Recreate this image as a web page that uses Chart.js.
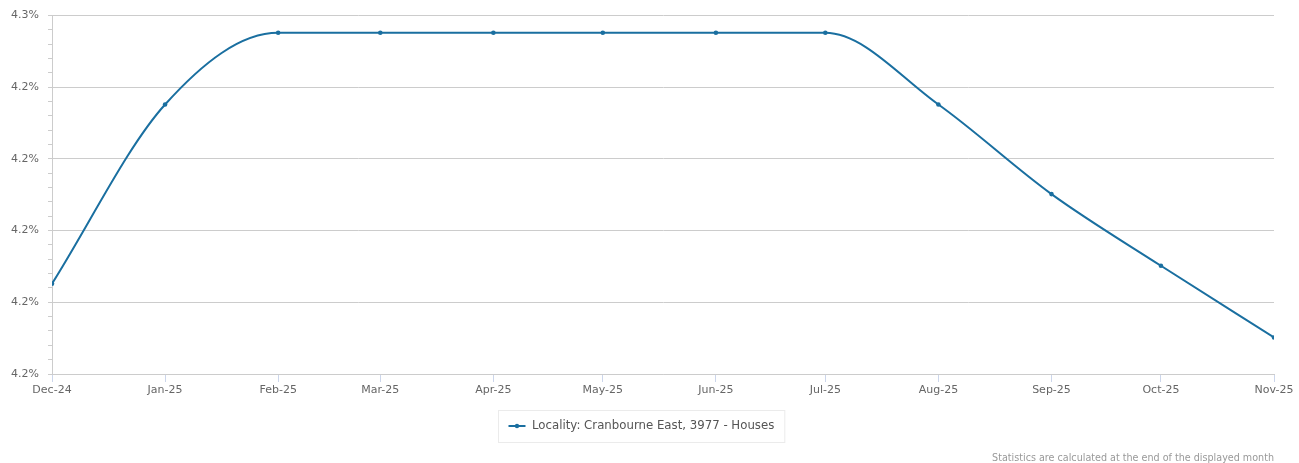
<!DOCTYPE html>
<html>
<head>
<meta charset="utf-8">
<script src="https://cdn.jsdelivr.net/npm/chart.js@4/dist/chart.umd.min.js"></script>
<style>
  html, body { margin: 0; padding: 0; background: #fff; }
  #wrap { width: 1299px; height: 463px; position: relative; }
</style>
</head>
<body>
<div id="wrap"><canvas id="rateChart"></canvas></div>
<script>
// months shown on the x axis (first day of each month)
const months = ["2024-12-01", "2025-01-01", "2025-02-01", "2025-03-01", "2025-04-01", "2025-05-01",
  "2025-06-01", "2025-07-01", "2025-08-01", "2025-09-01", "2025-10-01", "2025-11-01"];
const monthNames = ["Jan", "Feb", "Mar", "Apr", "May", "Jun", "Jul", "Aug", "Sep", "Oct", "Nov", "Dec"];
// values in percent
const rates = [4.2126, 4.2376, 4.2476, 4.2476, 4.2476, 4.2476, 4.2476, 4.2476, 4.2376, 4.2251, 4.2151, 4.2051];
const seriesName = "Locality: Cranbourne East, 3977 - Houses";
const footnote = "Statistics are calculated at the end of the displayed month";
const yMin = 4.2, yMax = 4.25, yMajor = 0.01, yMinor = 0.002;

const lineColor = "#1a6fa0";
const fontFamily = "'DejaVu Sans', sans-serif";

const times = months.map((m) => Date.parse(m + "T00:00:00Z"));
const points = times.map((t, i) => ({ x: t, y: rates[i] }));

function isMajor(v) {
  const k = Math.round(v / yMajor);
  return Math.abs(v / yMajor - k) < 1e-6;
}

function monthLabel(t) {
  const d = new Date(t);
  return monthNames[d.getUTCMonth()] + "-" + String(d.getUTCFullYear()).slice(2);
}

// legend box + footnote, drawn like the original
const legendPlugin = {
  id: "boxLegend",
  afterDraw(chart) {
    const ctx = chart.ctx;
    ctx.save();
    ctx.font = "11.75px " + fontFamily;
    const textW = ctx.measureText(seriesName).width;
    const boxW = 10 + 17 + 6 + textW + 11;
    const bx = 498.5;
    const by = 410.5;
    ctx.strokeStyle = "#ebebeb";
    ctx.lineWidth = 1;
    ctx.strokeRect(bx, by, boxW, 32);
    // marker
    const my = by + 15.5;
    ctx.strokeStyle = lineColor;
    ctx.lineWidth = 2;
    ctx.beginPath();
    ctx.moveTo(bx + 10, my);
    ctx.lineTo(bx + 27, my);
    ctx.stroke();
    ctx.fillStyle = lineColor;
    ctx.beginPath();
    ctx.arc(bx + 18.5, my, 2.2, 0, Math.PI * 2);
    ctx.fill();
    ctx.fillStyle = "#555";
    ctx.textBaseline = "middle";
    ctx.fillText(seriesName, bx + 33.5, my);
    // footnote
    ctx.font = "9.6px " + fontFamily;
    ctx.fillStyle = "#999";
    ctx.textAlign = "right";
    ctx.textBaseline = "alphabetic";
    ctx.fillText(footnote, chart.chartArea.right, 461);
    ctx.restore();
  },
};

new Chart(document.getElementById("rateChart"), {
  type: "line",
  data: {
    datasets: [
      {
        label: seriesName,
        data: points,
        borderColor: lineColor,
        backgroundColor: lineColor,
        borderWidth: 2,
        pointRadius: 2.3,
        pointBorderWidth: 0,
        pointHoverRadius: 3,
        cubicInterpolationMode: "monotone",
        fill: false,
      },
    ],
  },
  plugins: [legendPlugin],
  options: {
    responsive: true,
    maintainAspectRatio: false,
    animation: false,
    layout: { padding: { top: 14, right: 25, bottom: 0, left: 0 } },
    plugins: {
      legend: { display: false },
      tooltip: { enabled: false },
    },
    scales: {
      x: {
        type: "linear",
        min: times[0],
        max: times[times.length - 1],
        afterBuildTicks(scale) {
          scale.ticks = times.map((t) => ({ value: t }));
        },
        afterFit(scale) {
          scale.height = 89;
        },
        ticks: {
          autoSkip: false,
          maxRotation: 0,
          padding: 2,
          color: "#666",
          font: { family: fontFamily, size: 11 },
          callback: (v) => monthLabel(v),
        },
        grid: {
          drawOnChartArea: false,
          drawTicks: true,
          tickLength: 8,
          tickColor: "#ccd6eb",
        },
        border: { color: "#ccc", width: 1 },
      },
      y: {
        min: yMin,
        max: yMax,
        afterFit(scale) {
          scale.width = 52;
        },
        ticks: {
          stepSize: yMinor,
          autoSkip: false,
          padding: 9,
          color: "#666",
          font: { family: fontFamily, size: 11 },
          callback: (v) => (isMajor(v) ? (Math.round(v / yMajor) * yMajor).toFixed(1) + "%" : ""),
        },
        grid: {
          drawTicks: true,
          tickLength: 4,
          color: (c) => (c.tick && isMajor(c.tick.value) ? "#ccc" : "rgba(0,0,0,0)"),
          tickColor: "#ccc",
        },
        border: { color: "#ccc", width: 1 },
      },
    },
  },
});
</script>
</body>
</html>
